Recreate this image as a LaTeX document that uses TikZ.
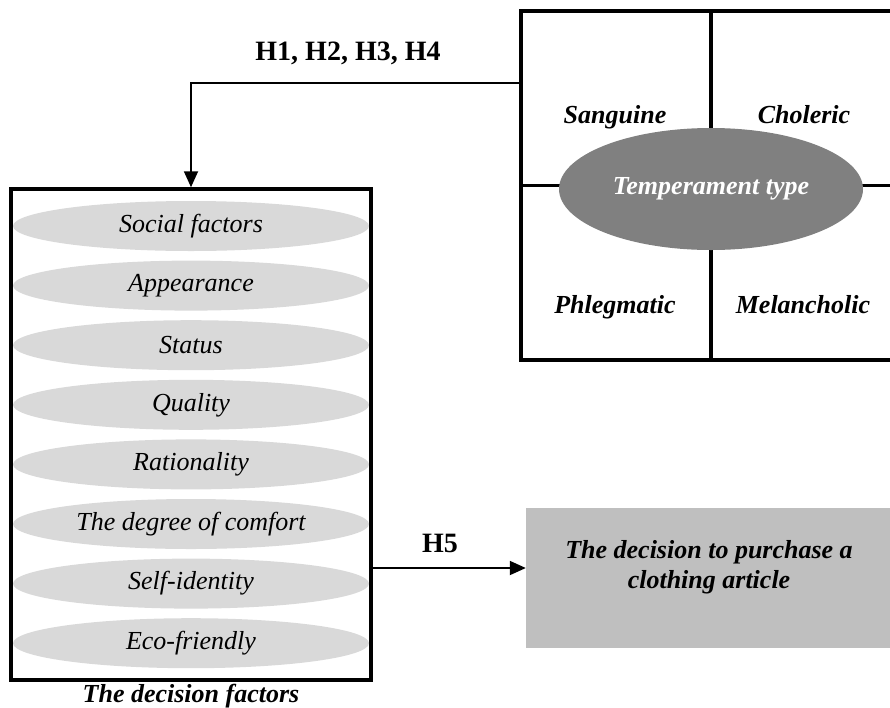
\documentclass[tikz,border=0pt]{standalone}
\usepackage{fontspec}
\setmainfont{Liberation Serif}
\usetikzlibrary{shapes.geometric,arrows.meta}

\begin{document}
\begin{tikzpicture}[x=1pt, y=-1pt]
    \tikzstyle{factor}=[
        ellipse,
        fill = gray!30,
        inner sep = 0pt,
        minimum width = 356pt,
        minimum height = 50pt,
        font = \fontsize{26pt}{30pt}\selectfont\itshape
    ]
    \tikzstyle{temper label}=[
        font = \fontsize{26pt}{30pt}\selectfont\bfseries\itshape
    ]
    \tikzstyle{hyp label}=[
        anchor = base,
        font = \fontsize{28pt}{32pt}\selectfont\bfseries
    ]
    \tikzstyle{link}=[
        line width = 1.8pt,
        -{Triangle[length=16pt,width=14pt]}
    ]

    \useasboundingbox (0,0) rectangle (890,707);

	\node[draw, line width=3.5pt, minimum width=360pt, minimum height=491pt] (factors) at (191, 434.5) {};
	\node[factor] (social)   at (191, 226)   {Social factors};
	\node[factor] (appear)   at (191, 285.6) {Appearance};
	\node[factor] (status)   at (191, 345.2) {Status};
	\node[factor] (quality)  at (191, 404.8) {Quality};
	\node[factor] (ration)   at (191, 464.4) {Rationality};
	\node[factor] (comfort)  at (191, 524)   {The degree of comfort};
	\node[factor] (identity) at (191, 583.6) {Self-identity};
	\node[factor] (eco)      at (191, 643.2) {Eco-friendly};
	\node[temper label, anchor=base] (caption) at (191, 702) {The decision factors};

	\node[draw, line width=3.5pt, minimum width=380pt, minimum height=349pt] (temper) at (711, 185.5) {};
	\draw[line width=3.5pt] (temper.north) -- (temper.south);
	\draw[line width=3.5pt] (temper.west) -- (temper.east);
	\node[temper label, anchor=base] (sanguine)   at (615, 123) {Sanguine};
	\node[temper label, anchor=base] (choleric)   at (804, 123) {Choleric};
	\node[temper label, anchor=base] (phlegmatic) at (615, 313) {Phlegmatic};
	\node[temper label, anchor=base] (melan)      at (803, 313) {Melancholic};
	\node[ellipse, fill=gray, text=white, temper label, inner sep=0pt,
	      minimum width=304pt, minimum height=122pt] (temptype) at (711, 189) {Temperament type};

	\node[fill=gray!50, minimum width=367pt, minimum height=140pt] (purchase) at (709.5, 578) {};
	\node[temper label, align=center, inner sep=0pt] (purchasetext) at (709, 567)
	      {The decision to purchase a\\clothing article};

	\draw[link] (temper.west |- 0,83) -| (factors.north);
	\node[hyp label] (h1234) at (348, 60) {H1, H2, H3, H4};
	\draw[link] (factors.east |- 0,568) -- (purchase.west |- 0,568);
	\node[hyp label] (h5) at (440, 552) {H5};

	\end{tikzpicture}
\end{document}
